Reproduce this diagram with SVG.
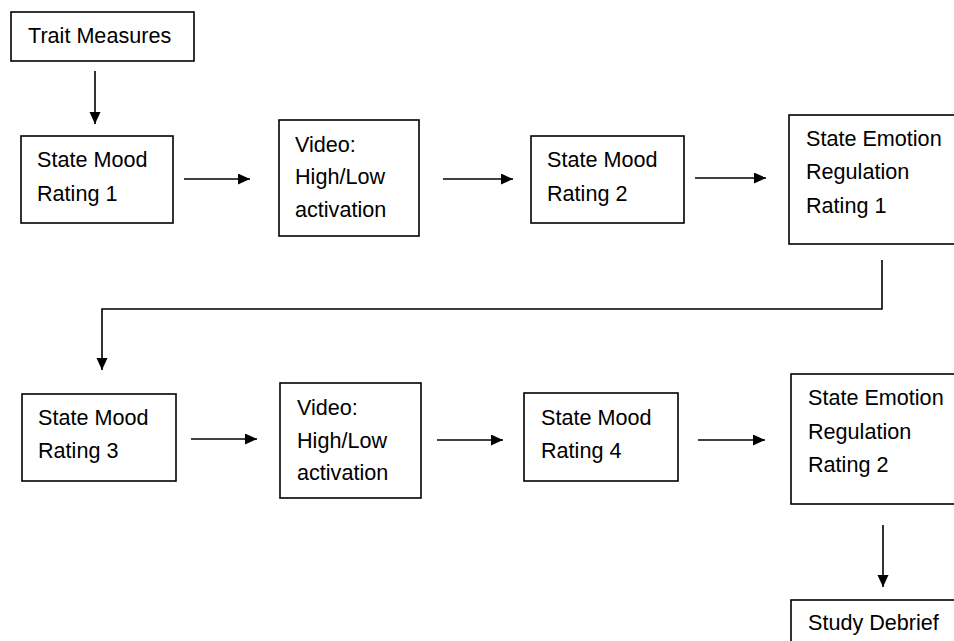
<svg xmlns="http://www.w3.org/2000/svg" width="954" height="641" viewBox="0 0 954 641">
<style>
.box{fill:#fff;stroke:#000;stroke-width:1.6}
.t{font-family:"Liberation Sans",Arial,sans-serif;font-size:21.6px;fill:#000}
.c{fill:none;stroke:#000;stroke-width:1.6}
</style>
<defs>
<marker id="ah" markerUnits="userSpaceOnUse" markerWidth="13" markerHeight="12" refX="12" refY="5.5" orient="auto">
<path d="M0,0 L12,5.5 L0,11 z" fill="#000"/>
</marker>
</defs>
<rect width="954" height="641" fill="#fff"/>
<g id="connectors">
<line class="c" x1="95" y1="71" x2="95" y2="124" marker-end="url(#ah)"/>
<line class="c" x1="184" y1="179" x2="250" y2="179" marker-end="url(#ah)"/>
<line class="c" x1="443" y1="179" x2="513" y2="179" marker-end="url(#ah)"/>
<line class="c" x1="695" y1="178" x2="766" y2="178" marker-end="url(#ah)"/>
<polyline class="c" points="882,260 882,309 102,309 102,370" marker-end="url(#ah)"/>
<line class="c" x1="191" y1="439" x2="257" y2="439" marker-end="url(#ah)"/>
<line class="c" x1="437" y1="440" x2="503" y2="440" marker-end="url(#ah)"/>
<line class="c" x1="698" y1="440" x2="765" y2="440" marker-end="url(#ah)"/>
<line class="c" x1="883" y1="525" x2="883" y2="587" marker-end="url(#ah)"/>
</g>
<g id="trait">
<rect class="box" x="11" y="12" width="183" height="49"/>
<text class="t" x="28" y="43">Trait Measures</text>
</g>
<g id="smr1">
<rect class="box" x="21" y="136" width="152" height="87"/>
<text class="t" x="37" y="167">State Mood</text>
<text class="t" x="37" y="201">Rating 1</text>
</g>
<g id="video1">
<rect class="box" x="279" y="120" width="140" height="116"/>
<text class="t" x="295" y="152">Video:</text>
<text class="t" x="295" y="184">High/Low</text>
<text class="t" x="295" y="217">activation</text>
</g>
<g id="smr2">
<rect class="box" x="531" y="136" width="153" height="87"/>
<text class="t" x="547" y="167">State Mood</text>
<text class="t" x="547" y="201">Rating 2</text>
</g>
<g id="serr1">
<rect class="box" x="789" y="115" width="200" height="129"/>
<text class="t" x="806" y="146">State Emotion</text>
<text class="t" x="806" y="179">Regulation</text>
<text class="t" x="806" y="213">Rating 1</text>
</g>
<g id="smr3">
<rect class="box" x="22" y="394" width="154" height="87"/>
<text class="t" x="38" y="425">State Mood</text>
<text class="t" x="38" y="458">Rating 3</text>
</g>
<g id="video2">
<rect class="box" x="280" y="383" width="141" height="115"/>
<text class="t" x="297" y="415">Video:</text>
<text class="t" x="297" y="448">High/Low</text>
<text class="t" x="297" y="480">activation</text>
</g>
<g id="smr4">
<rect class="box" x="524" y="393" width="154" height="88"/>
<text class="t" x="541" y="425">State Mood</text>
<text class="t" x="541" y="458">Rating 4</text>
</g>
<g id="serr2">
<rect class="box" x="791" y="374" width="200" height="130"/>
<text class="t" x="808" y="405">State Emotion</text>
<text class="t" x="808" y="439">Regulation</text>
<text class="t" x="808" y="472">Rating 2</text>
</g>
<g id="debrief">
<rect class="box" x="791" y="600" width="200" height="60"/>
<text class="t" x="808" y="630">Study Debrief</text>
</g>
</svg>
